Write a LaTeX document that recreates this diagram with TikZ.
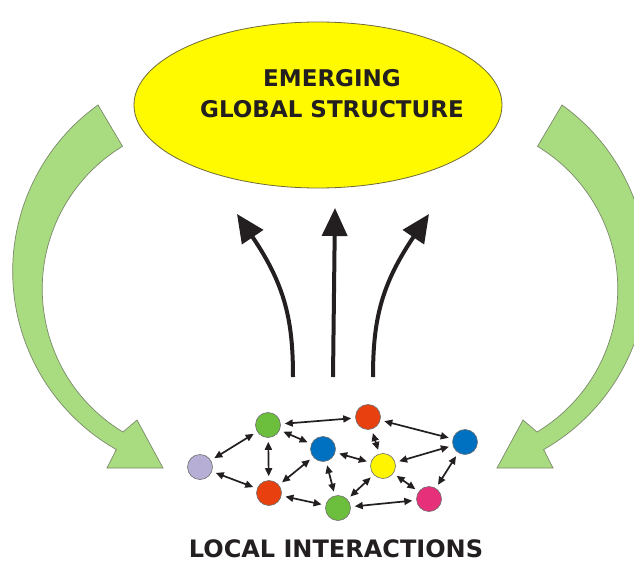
\documentclass[tikz,border=0pt]{standalone}
\usepackage{fontspec}
\newfontfamily\diagfont{DejaVu Sans}
\usetikzlibrary{arrows.meta,shapes.geometric}
\definecolor{ink}{HTML}{231F20}
\definecolor{bandgreen}{HTML}{A9DB80}
\definecolor{bandrim}{HTML}{7A8A6A}
\definecolor{globalfill}{HTML}{FFFA00}
\definecolor{globalrim}{HTML}{6E6A3A}
\definecolor{agentrim}{HTML}{6F6F6F}
\definecolor{lilacfill}{HTML}{B7AED6}
\definecolor{greenfill}{HTML}{6CBF3C}
\definecolor{redfill}{HTML}{E8400E}
\definecolor{bluefill}{HTML}{0070C0}
\definecolor{yellowfill}{HTML}{FFF500}
\definecolor{pinkfill}{HTML}{E6307A}
\newcommand{\feedbackband}{(98,105) arc[start angle=234.3, end angle=119.6, radius=204.9]
  -- (107,468) -- (163,468) -- (137,420) -- (123,432)
  arc[start angle=121.1, end angle=238.7, radius=167] -- cycle}
\tikzstyle{band}=[fill=bandgreen, draw=bandrim, line width=0.7pt, line join=miter]
\tikzstyle{agent}=[circle, draw=agentrim, line width=0.6pt, inner sep=0, minimum size=25pt]
\tikzstyle{link}=[draw=ink, line width=1.7pt, {Triangle[length=8pt,width=7pt]}-{Triangle[length=8pt,width=7pt]},
                  shorten <=4pt, shorten >=4pt]
\tikzstyle{rise}=[draw=ink, line width=4pt, -{Triangle[length=28pt,width=25pt]}]
\tikzstyle{caption}=[font=\diagfont\bfseries\fontsize{23}{31}\selectfont, text=ink, align=center, inner sep=0]

\begin{document}
\begin{tikzpicture}[x=1pt, y=-1pt]
        \clip (0,0) rectangle (634,564);
        % feedback from the whole back to the parts
        \path[band] \feedbackband;
        \path[band, shift={(660,0)}, xscale=-1] \feedbackband;
        \node[ellipse, fill=globalfill, draw=globalrim, line width=0.8pt, inner sep=0,
              minimum width=368pt, minimum height=166pt] (global) at (318,105) {};
        \node[caption] (title) at (332,94) {EMERGING\\GLOBAL STRUCTURE};
        % upward arrows
        \coordinate (riseL) at (293,377);
        \coordinate (riseM) at (333,377);
        \coordinate (riseR) at (373,377);
        \coordinate (tipL) at (237,214);
        \coordinate (tipM) at (335,208);
        \coordinate (tipR) at (429,214);
        \draw[rise] (riseL) .. controls (293,320) and (285,285) .. (tipL);
        \draw[rise] (riseM) -- (tipM);
        \draw[rise] (riseR) .. controls (373,320) and (381,285) .. (tipR);
        % agents
        \node[agent, fill=lilacfill]  (lilac)  at (200,467) {};
        \node[agent, fill=greenfill]  (greenA) at (268,425) {};
        \node[agent, fill=redfill]    (redA)   at (368,417) {};
        \node[agent, fill=bluefill]   (blueA)  at (323,449) {};
        \node[agent, fill=bluefill]   (blueB)  at (465,442) {};
        \node[agent, fill=yellowfill] (yellow) at (383,466) {};
        \node[agent, fill=redfill]    (redB)   at (269,493) {};
        \node[agent, fill=greenfill]  (greenB) at (338,508) {};
        \node[agent, fill=pinkfill]   (pink)   at (429,499) {};
        \draw[link] (lilac) -- (greenA);
        \draw[link] (lilac) -- (redB);
        \draw[link] (greenA) -- (redB);
        \draw[link] (greenA) -- (redA);
        \draw[link] (greenA) -- (blueA);
        \draw[link] (redA) -- (yellow);
        \draw[link] (redA) -- (blueB);
        \draw[link] (blueA) -- (yellow);
        \draw[link] (blueA) -- (redB);
        \draw[link] (blueA) -- (greenB);
        \draw[link] (yellow) -- (blueB);
        \draw[link] (yellow) -- (greenB);
        \draw[link] (yellow) -- (pink);
        \draw[link] (blueB) -- (pink);
        \draw[link] (redB) -- (greenB);
        \draw[link] (greenB) -- (pink);
        \node[caption, font=\diagfont\bfseries\fontsize{24}{30}\selectfont] (footer) at (336,549) {LOCAL INTERACTIONS};
\end{tikzpicture}
\end{document}
